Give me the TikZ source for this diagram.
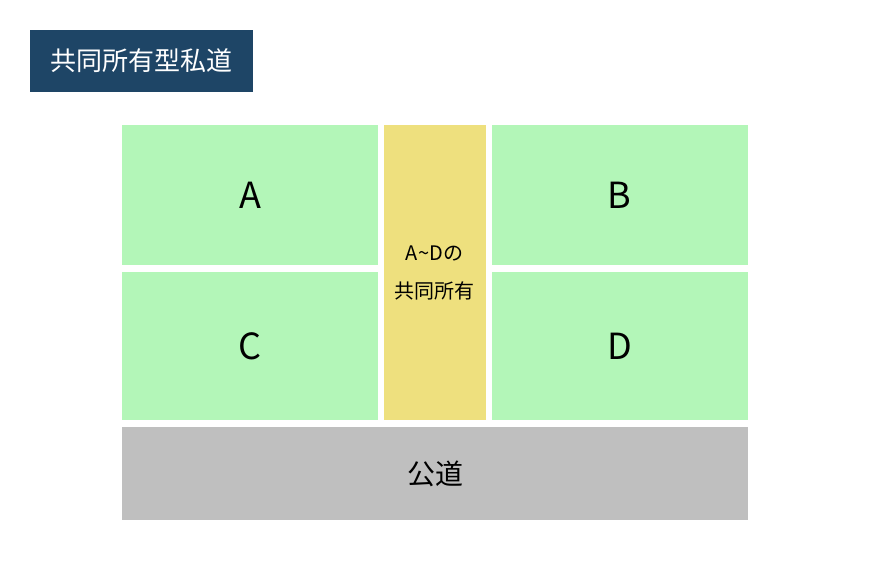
\documentclass[tikz,border=0pt]{standalone}
\usepackage{fontspec}
\setmainfont{Noto Sans CJK JP}
\usepackage{tikz}
\usetikzlibrary{positioning}
\definecolor{titleblue}{HTML}{1E4566}
\definecolor{lotgreen}{HTML}{B3F6B8}
\definecolor{shareyellow}{HTML}{EEE07E}
\definecolor{roadgray}{HTML}{BFBFBF}
\tikzset{
x=1pt, y=-1pt, % pixel-like units, y going down
every node/.style={inner sep=0pt, outer sep=0pt}, % boxes sized exactly
titlebox/.style={fill=titleblue, text=white, minimum width=223pt, minimum height=62pt, font=\fontsize{26}{30}\selectfont},
lot/.style={fill=lotgreen, minimum width=256pt, font=\fontsize{36}{40}\selectfont}, % one plot of land
shared/.style={fill=shareyellow, minimum width=102pt, minimum height=295pt, align=center, font=\fontsize{20}{38}\selectfont},
road/.style={fill=roadgray, minimum width=626pt, minimum height=93pt, font=\fontsize{28}{32}\selectfont},
}
\begin{document}
\begin{tikzpicture}
\useasboundingbox (0,0) rectangle (870,580);
\node[titlebox] (title) at (141.5,61) {共同所有型私道};

\node[lot, minimum height=140pt] (a) at (250,195) {A};
\node[lot, minimum height=140pt] (b) at (619.5,195) {B};
\node[lot, minimum height=148pt] (c) at (250,346) {C};
\node[lot, minimum height=148pt] (d) at (619.5,346) {D};

\node[shared] (share) at (434.5,272.5) {A\textasciitilde Dの\\共同所有};
\node[road] (public) at (435,473.5) {公道};
\end{tikzpicture}
\end{document}
